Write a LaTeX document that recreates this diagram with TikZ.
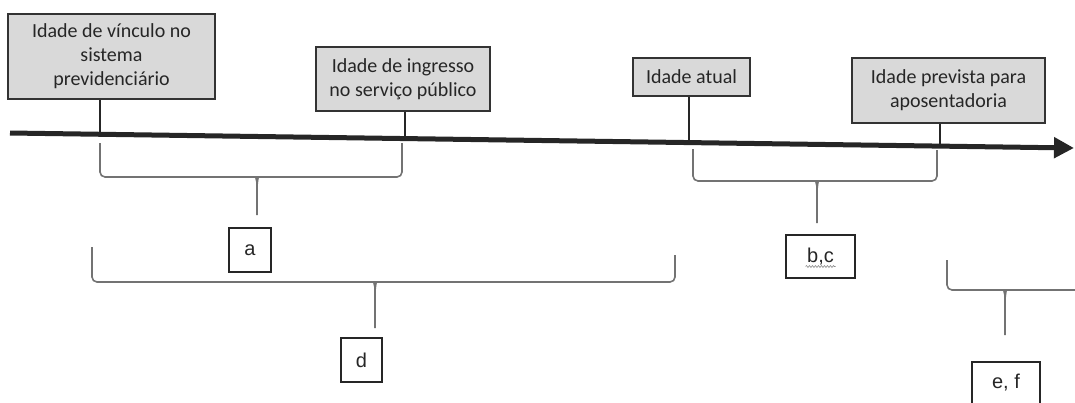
\documentclass[tikz,border=0pt]{standalone}
\usepackage{fontspec}
\setmainfont{Carlito}
\newfontfamily\arialf{Liberation Sans}
\usetikzlibrary{arrows.meta,decorations.pathmorphing}
\tikzset{
  x=1pt,y=-1pt,
  agebox/.style={draw=black!80,line width=1.2pt,fill=black!15,align=center,
    inner sep=0pt,font=\fontsize{20}{24}\selectfont,text=black!85},
  letterbox/.style={draw=black!85,line width=1.1pt,fill=white,inner sep=0pt,
    font=\arialf\fontsize{20}{22}\selectfont,text=black!85},
  tick/.style={draw=black!85,line width=2pt},
  axis/.style={draw=black!85,line width=5pt,-{Triangle[length=20pt,width=20pt]}},
  brc/.style={draw=black!55,line width=1.6pt},
}
\begin{document}
\begin{tikzpicture}
\useasboundingbox (0,0) rectangle (1075,402);
\clip (0,0) rectangle (1075,402);
% boxes
\node[agebox,minimum width=207pt,minimum height=85pt] (b1) at (111.5,56.5)
  {Idade de vínculo no\\sistema\\previdenciário};
\node[agebox,minimum width=174pt,minimum height=64pt] (b2) at (403,79)
  {Idade de ingresso\\no serviço público};
\node[agebox,minimum width=117pt,minimum height=38pt] (b3) at (691.5,77)
  {Idade atual};
\node[agebox,minimum width=193pt,minimum height=65pt] (b4) at (948.5,90.5)
  {Idade prevista para\\aposentadoria};
% axis
\coordinate (ax0) at (10,133);
\coordinate (ax1) at (1074,148);
\draw[axis] (ax0) -- (ax1);
\coordinate (t1) at (100,134);
\coordinate (t2) at (405,138);
\coordinate (t3) at (689,142);
\coordinate (t4) at (940,145.5);
\draw[tick] (b1.south -| t1) -- (t1);
\draw[tick] (b2.south -| t2) -- (t2);
\draw[tick] (b3.south -| t3) -- (t3);
\draw[tick] (b4.south -| t4) -- (t4);
% letter boxes
\node[letterbox,minimum width=42pt,minimum height=44pt] (la) at (250,250) {a};
\node[letterbox,minimum width=41pt,minimum height=44pt] (ld) at (361.5,360) {d};
\node[letterbox,minimum width=69pt,minimum height=43pt] (lbc) at (820.5,256.5) {b,c};
\node[letterbox,minimum width=68pt,minimum height=42pt] (lef) at (1006,383) {e, f};
\draw[draw=black!45,line width=0.6pt,decorate,decoration={snake,amplitude=1pt,segment length=3pt}]
  ([xshift=-15pt,yshift=-10pt]lbc.center) -- ([xshift=15pt,yshift=-10pt]lbc.center);
% braces
\newcommand{\agebrace}[7]{% L, top-left, R, top-right, y, cx, tip
  \draw[brc,rounded corners=5pt] (#1,#2) -- (#1,#5) -- (#6-6,#5) to[out=0,in=90] (#6,#5+10) -- (#6,#7);
  \draw[brc,rounded corners=5pt] (#3,#4) -- (#3,#5) -- (#6+6,#5) to[out=180,in=90] (#6,#5+10);
}
\agebrace{100}{143}{402}{143}{177}{257}{215}
\coordinate (ca) at (257,215);
\agebrace{693}{149}{937}{150}{181}{817}{223}
\coordinate (cbc) at (817,223);
\agebrace{92}{247}{675}{255}{282}{375}{328}
\coordinate (cd) at (375,328);
\agebrace{947}{260}{1085}{260}{290}{1005}{335}
\coordinate (cef) at (1005,335);
\end{tikzpicture}
\end{document}
